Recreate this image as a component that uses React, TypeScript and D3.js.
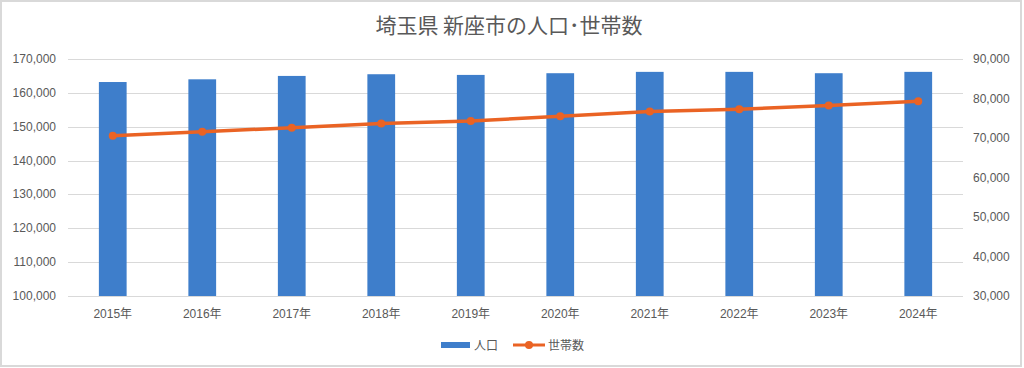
import React from "react";
import * as d3 from "d3";

const years = ["2015年","2016年","2017年","2018年","2019年","2020年","2021年","2022年","2023年","2024年"];
const population = [163200, 164000, 165000, 165500, 165300, 165800, 166200, 166200, 165800, 166200];
const households = [70600, 71600, 72600, 73700, 74300, 75500, 76700, 77300, 78200, 79300];
const leftTicks = [100000, 110000, 120000, 130000, 140000, 150000, 160000, 170000];
const rightTicks = [30000, 40000, 50000, 60000, 70000, 80000, 90000];

const W = 1024, H = 368;
const L = 68, R = 963, T = 59, B = 296;
const TEXT = "#595959";
const FONT = "'Liberation Sans', 'Noto Sans CJK JP', sans-serif";
const JFONT = "'Noto Sans CJK JP', sans-serif";

export default function App() {
  const x = d3.scaleBand<string>().domain(years).range([L, R]).paddingInner(0.69).paddingOuter(0.345);
  const yL = d3.scaleLinear().domain([100000, 170000]).range([B, T]);
  const yR = d3.scaleLinear().domain([30000, 90000]).range([B, T]);
  const fmt = d3.format(",");
  const cx = (d: string) => (x(d) as number) + x.bandwidth() / 2;
  const line = d3.line<number>().x((_, i) => cx(years[i])).y((v) => yR(v));

  return (
    <svg width={W} height={H} style={{ position: "absolute", left: 0, top: 0, background: "#fff" }}>
      <rect x={1} y={1} width={1020} height={365} fill="#fff" stroke="#d9d9d9" strokeWidth={2} />
      <text x={509} y={33} textAnchor="middle" fontFamily={JFONT} fontSize={21} fill={TEXT}>埼玉県 新座市の人口･世帯数</text>
      {leftTicks.map((t) => (
        <line key={"g" + t} x1={L} x2={R} y1={Math.round(yL(t)) + 0.5} y2={Math.round(yL(t)) + 0.5} stroke="#d9d9d9" strokeWidth={1} />
      ))}
      {leftTicks.map((t) => (
        <text key={"l" + t} x={56} y={yL(t) + 4} textAnchor="end" fontFamily={FONT} fontSize={12} fill={TEXT}>{fmt(t)}</text>
      ))}
      {rightTicks.map((t) => (
        <text key={"r" + t} x={973} y={yR(t) + 4} textAnchor="start" fontFamily={FONT} fontSize={12} fill={TEXT}>{fmt(t)}</text>
      ))}
      {years.map((d, i) => (
        <rect key={"b" + d} x={x(d)} y={yL(population[i])} width={x.bandwidth()} height={B - yL(population[i])} fill="#3E7ECB" />
      ))}
      {years.map((d) => (
        <text key={"x" + d} x={cx(d)} y={318} textAnchor="middle" fontFamily={FONT} fontSize={12} fill={TEXT}>{d}</text>
      ))}
      <path d={line(households) || ""} fill="none" stroke="#EA6324" strokeWidth={3.5} strokeLinejoin="round" />
      {households.map((v, i) => (
        <circle key={"c" + i} cx={cx(years[i])} cy={yR(v)} r={4} fill="#EA6324" />
      ))}
      <rect x={441} y={342} width={29} height={6} fill="#3E7ECB" />
      <text x={474} y={350} fontFamily={JFONT} fontSize={12} fill={TEXT}>人口</text>
      <line x1={513} x2={545} y1={345} y2={345} stroke="#EA6324" strokeWidth={3} />
      <circle cx={529} cy={345} r={4} fill="#EA6324" />
      <text x={548} y={350} fontFamily={JFONT} fontSize={12} fill={TEXT}>世帯数</text>
    </svg>
  );
}
